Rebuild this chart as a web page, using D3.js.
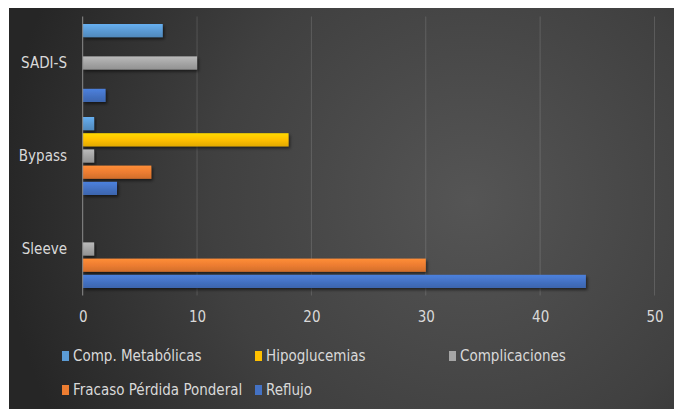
<!DOCTYPE html>
<html>
<head>
<meta charset="utf-8">
<script src="https://cdn.jsdelivr.net/npm/d3@7/dist/d3.min.js"></script>
<style>
  html, body { margin: 0; padding: 0; background: #ffffff; }
  svg { display: block; }
  text { font-family: "Liberation Sans Narrow", "DejaVu Sans Condensed", "Liberation Sans", sans-serif; fill: #d9d9d9; }
</style>
</head>
<body>
<svg id="chart" width="674" height="409"></svg>
<script>
// Procedures, listed top to bottom
const categories = ["SADI-S", "Bypass", "Sleeve"];

// Series, listed top to bottom inside each group
const seriesNames = ["Comp. Metabólicas", "Hipoglucemias", "Complicaciones", "Fracaso Pérdida Ponderal", "Reflujo"];
const seriesColors = ["#5b9bd5", "#ffc000", "#a5a5a5", "#ed7d31", "#4472c4"];

// Values per series, in the order of `categories`
const compMetabolicas = [7, 1, 0];
const hipoglucemias   = [0, 18, 0];
const complicaciones  = [10, 1, 1];
const fracasoPonderal = [0, 6, 30];
const reflujo         = [2, 3, 44];

const seriesValues = [compMetabolicas, hipoglucemias, complicaciones, fracasoPonderal, reflujo];

const xTicks = [0, 10, 20, 30, 40, 50];

// Legend layout: two rows
const legendRows = [
  ["Comp. Metabólicas", "Hipoglucemias", "Complicaciones"],
  ["Fracaso Pérdida Ponderal", "Reflujo"]
];

const svg = d3.select("#chart");
const defs = svg.append("defs");

// Dark panel with a soft radial light
const bg = defs.append("radialGradient")
  .attr("id", "bg").attr("gradientUnits", "userSpaceOnUse")
  .attr("cx", 470).attr("cy", 200).attr("r", 470);
bg.append("stop").attr("offset", 0).attr("stop-color", "#555555");
bg.append("stop").attr("offset", 0.55).attr("stop-color", "#404040");
bg.append("stop").attr("offset", 1).attr("stop-color", "#262626");

svg.append("rect")
  .attr("x", 9).attr("y", 8).attr("width", 665).attr("height", 401)
  .attr("fill", "url(#bg)");

// Bar shading and shadow
seriesColors.forEach((c, i) => {
  const g = defs.append("linearGradient").attr("id", "bar" + i)
    .attr("x1", 0).attr("y1", 0).attr("x2", 0).attr("y2", 1);
  g.append("stop").attr("offset", 0).attr("stop-color", d3.color(c).brighter(0.35));
  g.append("stop").attr("offset", 0.5).attr("stop-color", c);
  g.append("stop").attr("offset", 1).attr("stop-color", d3.color(c).darker(0.35));
});
const sh = defs.append("filter").attr("id", "shadow")
  .attr("x", "-10%").attr("y", "-30%").attr("width", "130%").attr("height", "190%");
sh.append("feDropShadow").attr("dx", 1.5).attr("dy", 2).attr("stdDeviation", 1.5)
  .attr("flood-color", "#000").attr("flood-opacity", 0.55);

const x = d3.scaleLinear().domain([0, 50]).range([82.7, 654.5]);
const y0 = d3.scaleBand().domain(categories).range([16.5, 295.5]).padding(0);
const y1 = d3.scaleBand().domain(seriesNames)
  .range([7.5, y0.bandwidth() - 7.5]).paddingInner(0.185).paddingOuter(0);

// Vertical gridlines
svg.append("g").selectAll("line")
  .data(xTicks.filter(t => t > 0))
  .join("line")
  .attr("x1", d => x(d)).attr("x2", d => x(d))
  .attr("y1", y0.range()[0]).attr("y2", y0.range()[1])
  .attr("stroke", "#ffffff").attr("stroke-opacity", 0.14).attr("stroke-width", 1);

// Bars
const groups = svg.append("g").selectAll("g")
  .data(categories)
  .join("g")
  .attr("transform", d => `translate(0,${y0(d)})`);

groups.selectAll("rect")
  .data((cat, ci) => seriesNames.map((s, si) => ({ s, si, v: seriesValues[si][ci] })).filter(d => d.v > 0))
  .join("rect")
  .attr("x", x(0))
  .attr("y", d => y1(d.s))
  .attr("width", d => x(d.v) - x(0))
  .attr("height", y1.bandwidth())
  .attr("fill", d => `url(#bar${d.si})`)
  .attr("filter", "url(#shadow)");

// Category axis line
svg.append("line")
  .attr("x1", x(0)).attr("x2", x(0))
  .attr("y1", y0.range()[0]).attr("y2", y0.range()[1])
  .attr("stroke", "#8c8c8c").attr("stroke-width", 1);

// Category labels
svg.append("g").selectAll("text")
  .data(categories)
  .join("text")
  .attr("x", 67)
  .attr("y", d => y0(d) + y0.bandwidth() / 2)
  .attr("dy", "0.35em")
  .attr("text-anchor", "end")
  .attr("font-size", 15)
  .text(d => d);

// Value axis labels
const xAxis = d3.axisBottom(x).tickValues(xTicks).tickSize(0).tickPadding(0);
const gx = svg.append("g").attr("transform", "translate(0,317)").call(xAxis);
gx.select(".domain").remove();
gx.selectAll("text")
  .attr("y", 0).attr("dy", "0.35em")
  .attr("font-size", 15)
  .attr("font-family", null)
  .attr("fill", "#d9d9d9");
gx.attr("font-family", null).attr("font-size", null);

// Legend
const legendX = [62, 255, 449];
const legendY = [356, 390];
legendRows.forEach((row, ri) => {
  row.forEach((name, ci) => {
    const si = seriesNames.indexOf(name);
    const g = svg.append("g").attr("transform", `translate(${legendX[ci]},${legendY[ri]})`);
    g.append("rect").attr("x", 0).attr("y", -5).attr("width", 7).attr("height", 10)
      .attr("fill", seriesColors[si]);
    g.append("text").attr("x", 11).attr("y", 0).attr("dy", "0.35em")
      .attr("font-size", 15).text(name);
  });
});
</script>
</body>
</html>
